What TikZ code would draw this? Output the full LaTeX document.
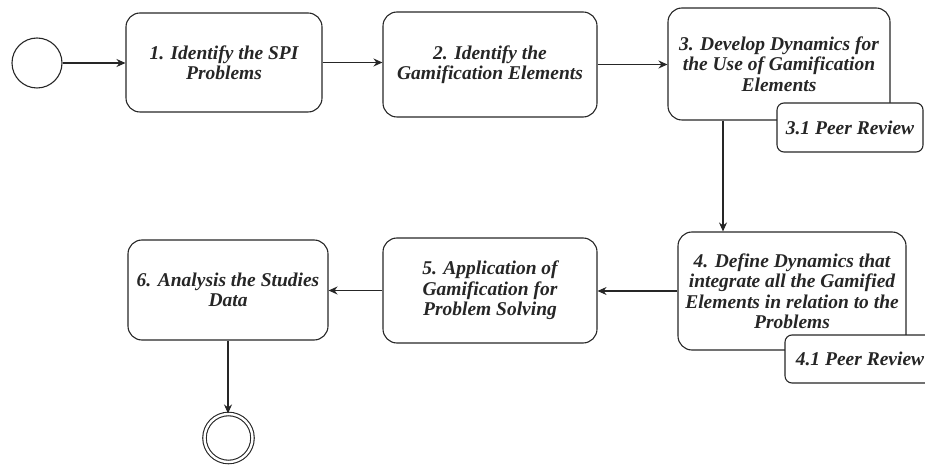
\documentclass[tikz,border=0pt]{standalone}
\usepackage{fontspec}
\setmainfont{Liberation Serif}
\usetikzlibrary{arrows.meta}

\begin{document}
\begin{tikzpicture}[x=1pt,y=1pt,>={Stealth[length=9pt,width=8pt]},line width=1.1pt,color=black!85,
    task/.style={draw, rounded corners=14pt, align=center, inner sep=2pt, font=\bfseries\itshape\fontsize{19.5}{20.5}\selectfont},
    peer/.style={task, fill=white, rounded corners=7pt},
    event/.style={draw, circle, inner sep=0pt}]
        \useasboundingbox (0,0) rectangle (925,466);
        \node (start) [event, minimum size=50pt] at (37,403) {};
        \node (spi) [task, minimum width=196pt, minimum height=99pt] at (224,403.5) {1. Identify the SPI\\Problems};
        \node (elements) [task, minimum width=214pt, minimum height=105pt] at (490,401.5) {2. Identify the\\Gamification Elements};
        \node (dynamics) [task, minimum width=222pt, minimum height=112pt] at (779,402) {3. Develop Dynamics for\\the Use of Gamification\\Elements};
        \node (review1) [peer, minimum width=146pt, minimum height=49pt] at (850,338.5) {3.1 Peer Review};
        \node (integrate) [task, minimum width=228pt, minimum height=118pt] at (792,175) {4. Define Dynamics that\\integrate all the Gamified\\Elements in relation to the\\Problems};
        \node (review2) [peer, minimum width=150pt, minimum height=48pt] at (860,107) {4.1 Peer Review};
        \node (apply) [task, minimum width=214pt, minimum height=105pt] at (490,175.5) {5. Application of\\Gamification for\\Problem Solving};
        \node (analysis) [task, minimum width=200pt, minimum height=100pt] at (228,176) {6. Analysis the Studies\\Data};
        \node (finish) [event, double, double distance=2.4pt, minimum size=48pt] at (228.5,28) {};
        \draw[->] (start) -- (start -| spi.west);
        \draw[->] (spi.east) -- (spi.east -| elements.west);
        \draw[->] (elements.east) -- (elements.east -| dynamics.west);
        \draw[->] ([xshift=-56pt]dynamics.south) -- ([xshift=-56pt]dynamics.south |- integrate.north);
        \draw[->] (integrate.west) -- (integrate.west -| apply.east);
        \draw[->] (apply.west) -- (apply.west -| analysis.east);
        \draw[->] (analysis.south) -- (analysis.south |- finish.north);
    \end{tikzpicture}
\end{document}
